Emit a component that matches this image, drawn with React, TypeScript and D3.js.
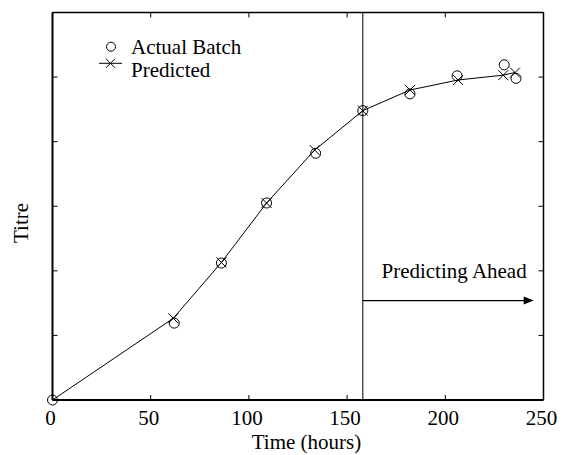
import React from "react";
import * as d3 from "d3";

// ---- data ----
const actualTime = [0, 62, 86, 109, 134, 158, 182, 206, 230, 236];
const actualTitre = [0, 1.19, 2.12, 3.05, 3.82, 4.48, 4.74, 5.02, 5.19, 4.98];
const predictedTime = [0, 61.5, 86, 109, 133.5, 158, 182, 206.5, 229.5, 235.5];
const predictedTitre = [0, 1.265, 2.13, 3.05, 3.87, 4.48, 4.8, 4.955, 5.03, 5.07];
const xTicks = [0, 50, 100, 150, 200, 250];
const yTicks = [0, 1, 2, 3, 4, 5, 6];
const legendLabels = ["Actual Batch", "Predicted"];
const predictStart = 158;
const arrowEnd = 245;
const arrowLevel = 1.54;
const annotationText = "Predicting Ahead";

const W = 567;
const H = 455;
const left = 52.5;
const right = 543.5;
const top = 12.5;
const bottom = 400;
const FONT = "'Liberation Serif', 'Times New Roman', Times, serif";
const FS = 21;
const tStyle = { fontFamily: FONT, fontSize: FS };

export default function App() {
  const x = d3.scaleLinear().domain([0, 250]).range([left, right]);
  const y = d3.scaleLinear().domain([0, 6]).range([bottom, top]);

  const predicted = predictedTime.map((t, i) => [t, predictedTitre[i]] as [number, number]);
  const actual = actualTime.map((t, i) => [t, actualTitre[i]] as [number, number]);

  const line = d3
    .line<[number, number]>()
    .x((d) => x(d[0]))
    .y((d) => y(d[1]))
    .curve(d3.curveLinear);

  const cross = (cx: number, cy: number, s: number, key: any) => (
    <path
      key={key}
      d={`M${cx - s},${cy - s}L${cx + s},${cy + s}M${cx - s},${cy + s}L${cx + s},${cy - s}`}
      stroke="#000"
      strokeWidth={1}
      fill="none"
    />
  );

  const tickLen = 5;
  const ax = x(arrowEnd);
  const ay = y(arrowLevel);

  return (
    <svg
      width={W}
      height={H}
      style={{ position: "absolute", left: 0, top: 0, background: "#fff" }}
    >
      <rect x={0} y={0} width={W} height={H} fill="#fff" />
      {/* ticks */}
      {xTicks.map((t) => (
        <g key={"xt" + t}>
          <line x1={x(t)} x2={x(t)} y1={bottom} y2={bottom - tickLen} stroke="#000" strokeWidth={1} />
          <line x1={x(t)} x2={x(t)} y1={top} y2={top + tickLen} stroke="#000" strokeWidth={1} />
          <text x={x(t) - 2} y={424.5} textAnchor="middle" style={tStyle} fill="#000">
            {t}
          </text>
        </g>
      ))}
      {yTicks.map((v) => (
        <g key={"yt" + v}>
          <line x1={left} x2={left + tickLen} y1={y(v)} y2={y(v)} stroke="#000" strokeWidth={1} />
          <line x1={right} x2={right - tickLen} y1={y(v)} y2={y(v)} stroke="#000" strokeWidth={1} />
        </g>
      ))}
      {/* frame */}
      <line x1={left} x2={right} y1={top} y2={top} stroke="#000" strokeWidth={1.5} />
      <line x1={right} x2={right} y1={top} y2={bottom} stroke="#000" strokeWidth={1.5} />
      <line x1={left} x2={left} y1={top} y2={bottom} stroke="#000" strokeWidth={2} />
      <line x1={left} x2={right} y1={bottom} y2={bottom} stroke="#000" strokeWidth={2} />

      {/* prediction divider */}
      <line x1={x(predictStart)} x2={x(predictStart)} y1={top} y2={bottom} stroke="#000" strokeWidth={1} />
      <line x1={x(predictStart)} x2={ax - 8} y1={ay} y2={ay} stroke="#000" strokeWidth={1.2} />
      <path d={`M${ax},${ay}L${ax - 10},${ay - 4}L${ax - 10},${ay + 4}Z`} fill="#000" />
      <text x={x(167.5)} y={y(1.885)} style={tStyle} fill="#000">
        {annotationText}
      </text>

      {/* predicted line */}
      <path d={line(predicted) || ""} fill="none" stroke="#000" strokeWidth={1} />
      {predicted.slice(1).map((d, i) => cross(x(d[0]), y(d[1]), 5, "c" + i))}
      {actual.map((d, i) => (
        <circle key={"a" + i} cx={x(d[0])} cy={y(d[1])} r={5} fill="none" stroke="#000" strokeWidth={1} />
      ))}

      {/* legend */}
      <circle cx={111} cy={46.7} r={4.5} fill="none" stroke="#000" strokeWidth={1} />
      <text x={131} y={54} style={tStyle} fill="#000">
        {legendLabels[0]}
      </text>
      <line x1={99} x2={122} y1={63.3} y2={63.3} stroke="#000" strokeWidth={1} />
      {cross(110.5, 63.3, 4.5, "lg")}
      <text x={131} y={77} style={tStyle} fill="#000">
        {legendLabels[1]}
      </text>

      {/* axis titles */}
      <text x={306.5} y={449} textAnchor="middle" style={tStyle} fill="#000">
        Time (hours)
      </text>
      <text
        transform={`translate(28,223) rotate(-90)`}
        textAnchor="middle"
        style={tStyle}
        fill="#000"
      >
        Titre
      </text>
    </svg>
  );
}
